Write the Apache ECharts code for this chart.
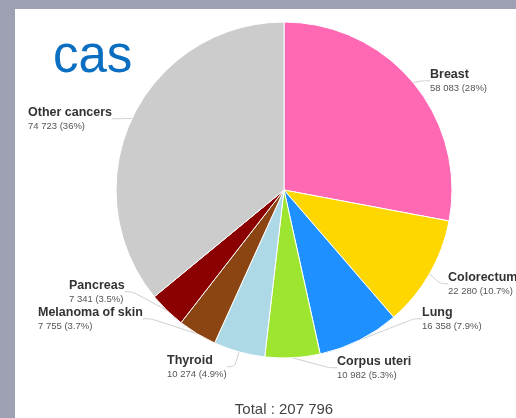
<!DOCTYPE html>
<html><head><meta charset="utf-8">
<script src="https://cdn.jsdelivr.net/npm/echarts@6/dist/echarts.min.js"></script>
<style>
html,body{margin:0;padding:0;width:516px;height:418px;overflow:hidden;background:#9ea1b4;}
#card{position:absolute;left:15px;top:9px;width:501px;height:409px;background:#fff;}
#chart{position:absolute;left:0;top:0;width:516px;height:418px;}
</style></head>
<body><div id="card"></div><div id="chart"></div>
<script>
const categories = ['Breast','Colorectum','Lung','Corpus uteri','Thyroid','Melanoma of skin','Pancreas','Other cancers'];
const values = [58083, 22280, 16358, 10982, 10274, 7755, 7341, 74723];
const percents = ['28%','10.7%','7.9%','5.3%','4.9%','3.7%','3.5%','36%'];
const totalLabel = 'Total : 207 796';
const colors = ['#ff69b4','#ffd700','#1e90ff','#9de52f','#add8e6','#8b4513','#8b0000','#cccccc'];
const labelPos = [[430,68],[448,271],[422,306],[337,355],[167,354],[38,306],[69,279],[28,106]];

function fmt(v){return String(v).replace(/\B(?=(\d{3})+(?!\d))/g,' ');}

const chart = echarts.init(document.getElementById('chart'));
chart.setOption({
  animation:false,
  color: colors,
  graphic:[
    {type:'text', left:53, top:32, style:{text:'cas', fill:'#0a6fc0', font:'51px "Liberation Sans", Arial, sans-serif'}},
    {type:'text', x:284, y:402, style:{text:totalLabel, fill:'#444', font:'15px "Liberation Sans", Arial, sans-serif', align:'center'}}
  ],
  series:[{
    type:'pie',
    center:[284,190],
    radius:168,
    startAngle:90,
    clockwise:true,
    itemStyle:{borderColor:'#fff', borderWidth:1},
    data: categories.map((c,i)=>({name:c, value:values[i]})),
    label:{
      show:true,
      overflow:'none',
      formatter:(p)=>'{n|'+p.name+'}\n{v|'+fmt(p.value)+' ('+percents[p.dataIndex]+')}',
      rich:{
        n:{fontSize:12.5, fontWeight:'bold', color:'#333', fontFamily:'"Liberation Sans", Arial, sans-serif', lineHeight:14},
        v:{fontSize:9.5, color:'#555', fontFamily:'"Liberation Sans", Arial, sans-serif', lineHeight:12}
      }
    },
    labelLine:{show:true, smooth:0.3, length:8, length2:8, lineStyle:{color:'#ccc', width:1}},
    labelLayout:(p)=>({x:labelPos[p.dataIndex][0], y:labelPos[p.dataIndex][1], align:'left', verticalAlign:'top'})
  }]
});
</script></body></html>
